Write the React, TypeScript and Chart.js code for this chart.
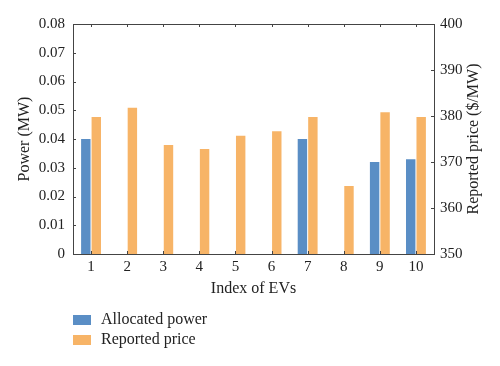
import React, { useEffect, useRef } from "react";
import { Chart, registerables } from "chart.js";

Chart.register(...registerables);

const categories = ["1", "2", "3", "4", "5", "6", "7", "8", "9", "10"];
const allocatedPower: (number | null)[] = [0.04, null, null, null, null, null, 0.04, null, 0.032, 0.033];
const reportedPrice = [379.8, 381.8, 373.7, 372.8, 375.7, 376.7, 379.8, 364.8, 380.8, 379.8];
const seriesNames = ["Allocated power", "Reported price"];
const seriesColors = ["#5a8ec5", "#f7b467"];
const powerTicks = [0, 0.01, 0.02, 0.03, 0.04, 0.05, 0.06, 0.07, 0.08];
const priceTicks = [350, 360, 370, 380, 390, 400];
const rightTitle = "Reported price ($/MW)";

const FONT = "'Liberation Serif', 'Times New Roman', serif";
const TEXT = "#222";
const LINE = "#444";

const framePlugin = {
  id: "frameTicks",
  afterDraw(chart: any) {
    const { ctx, chartArea } = chart;
    const { left, right, top, bottom } = chartArea;
    const x = chart.scales.x;
    const y = chart.scales.y;
    const y1 = chart.scales.y1;
    const L = 3;
    ctx.save();
    ctx.strokeStyle = LINE;
    ctx.lineWidth = 1;
    ctx.beginPath();
    ctx.moveTo(left, top + 0.5);
    ctx.lineTo(right, top + 0.5);
    x.ticks.forEach((_: any, i: number) => {
      const px = Math.round(x.getPixelForTick(i)) + 0.5;
      ctx.moveTo(px, top);
      ctx.lineTo(px, top + L);
      ctx.moveTo(px, bottom);
      ctx.lineTo(px, bottom - L);
    });
    y.ticks.forEach((_: any, i: number) => {
      const py = Math.round(y.getPixelForTick(i)) + 0.5;
      ctx.moveTo(left, py);
      ctx.lineTo(left + L, py);
    });
    y1.ticks.forEach((_: any, i: number) => {
      const py = Math.round(y1.getPixelForTick(i)) + 0.5;
      ctx.moveTo(right, py);
      ctx.lineTo(right - L, py);
    });
    ctx.stroke();

    // right axis title, reading bottom-to-top
    ctx.save();
    ctx.font = `16px ${FONT}`;
    ctx.fillStyle = TEXT;
    ctx.textAlign = "center";
    ctx.textBaseline = "middle";
    ctx.translate(474, (top + bottom) / 2);
    ctx.rotate(-Math.PI / 2);
    ctx.fillText(rightTitle, 0, 0);
    ctx.restore();

    // legend
    const ds = chart.data.datasets;
    ctx.font = `16px ${FONT}`;
    ctx.textBaseline = "middle";
    ctx.textAlign = "left";
    ds.forEach((d: any, i: number) => {
      const cy = 320 + i * 20;
      ctx.fillStyle = d.backgroundColor;
      ctx.fillRect(73, cy - 5, 18, 10);
      ctx.fillStyle = TEXT;
      ctx.fillText(d.label, 101, cy);
    });
    ctx.restore();
  },
};

export default function App() {
  const ref = useRef<HTMLCanvasElement>(null);
  useEffect(() => {
    document.body.style.margin = "0";
    const chart = new Chart(ref.current!, {
      type: "bar",
      data: {
        labels: categories,
        datasets: [
          {
            label: seriesNames[0],
            data: allocatedPower,
            backgroundColor: seriesColors[0],
            yAxisID: "y",
            barPercentage: 0.9,
            categoryPercentage: 0.58,
          },
          {
            label: seriesNames[1],
            data: reportedPrice,
            backgroundColor: seriesColors[1],
            yAxisID: "y1",
            barPercentage: 0.9,
            categoryPercentage: 0.58,
          },
        ],
      },
      options: {
        animation: false,
        responsive: false,
        layout: { padding: { left: 15, right: 16, top: 24, bottom: 68 } },
        plugins: { legend: { display: false }, tooltip: { enabled: false } },
        scales: {
          x: {
            grid: { display: false, drawTicks: false },
            border: { display: true, color: LINE },
            ticks: { color: TEXT, font: { family: FONT, size: 15 }, padding: 4 },
            title: {
              display: true,
              text: "Index of EVs",
              color: TEXT,
              font: { family: FONT, size: 16 },
              padding: { top: 0, bottom: 0 },
            },
            afterFit(s: any) {
              s.height = 44;
            },
          },
          y: {
            position: "left",
            min: 0,
            max: 0.08,
            afterBuildTicks(s: any) {
              s.ticks = powerTicks.map((v) => ({ value: v }));
            },
            grid: { display: false, drawTicks: false },
            border: { display: true, color: LINE },
            ticks: {
              color: TEXT,
              font: { family: FONT, size: 15 },
              padding: 8,
              callback: (v: any) => (v === 0 ? "0" : Number(v).toFixed(2)),
            },
            title: {
              display: true,
              text: "Power (MW)",
              color: TEXT,
              font: { family: FONT, size: 16 },
              padding: { top: 0, bottom: 0 },
            },
            afterFit(s: any) {
              s.width = 58;
            },
          },
          y1: {
            position: "right",
            min: 350,
            max: 400,
            afterBuildTicks(s: any) {
              s.ticks = priceTicks.map((v) => ({ value: v }));
            },
            grid: { display: false, drawTicks: false },
            border: { display: true, color: LINE },
            ticks: { color: TEXT, font: { family: FONT, size: 15 }, padding: 6 },
            title: { display: false },
            afterFit(s: any) {
              s.width = 50;
            },
          },
        },
      } as any,
      plugins: [framePlugin],
    });
    return () => chart.destroy();
  }, []);
  return (
    <div style={{ position: "absolute", left: 0, top: 0, width: 500, height: 366, background: "#fff" }}>
      <canvas ref={ref} width={500} height={366} style={{ display: "block" }} />
    </div>
  );
}
